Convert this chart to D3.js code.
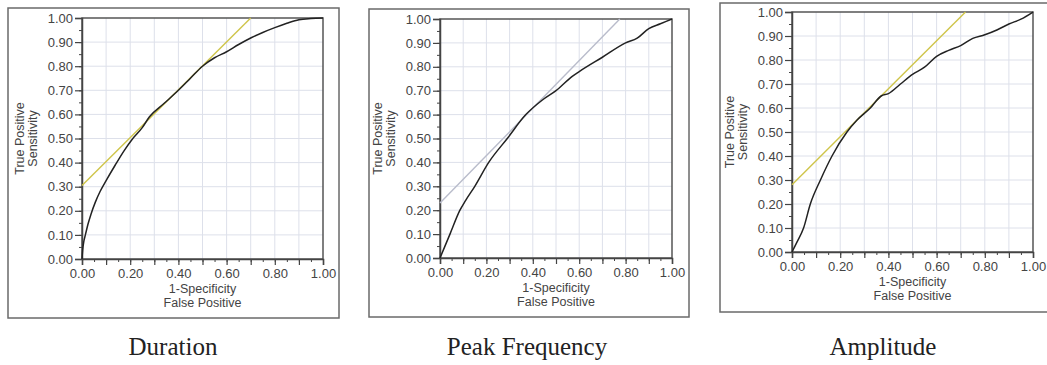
<!DOCTYPE html>
<html>
<head>
<meta charset="utf-8">
<script src="https://cdn.jsdelivr.net/npm/d3@7"></script>
<style>
	body { margin: 0; background: #fff; }
	svg { display: block; }
	.tick text { font-family: Arial, "Liberation Sans", sans-serif; font-size: 13px; fill: #444; }
	.lbl { font-family: Arial, "Liberation Sans", sans-serif; font-size: 12.5px; fill: #444; }
	.title { font-family: "Liberation Serif", "Times New Roman", serif; font-size: 25px; fill: #222; }
</style>
</head>
<body>
<div id="chart"></div>
<script>

//data
const titles = ["Duration", "Peak Frequency", "Amplitude"];

const durationFpr = [0, 0.003, 0.008, 0.014, 0.025, 0.037, 0.055, 0.075, 0.1, 0.138, 0.175, 0.207, 0.25, 0.28, 0.34, 0.40, 0.45, 0.50, 0.55, 0.60, 0.65, 0.70, 0.75, 0.80, 0.85, 0.90, 0.95, 1.0];
const durationTpr = [0, 0.04, 0.075, 0.10, 0.145, 0.185, 0.235, 0.28, 0.325, 0.39, 0.45, 0.495, 0.545, 0.59, 0.645, 0.70, 0.75, 0.80, 0.835, 0.86, 0.89, 0.917, 0.94, 0.96, 0.978, 0.993, 0.998, 1.0];

const peakFpr = [0, 0.043, 0.086, 0.11, 0.15, 0.21, 0.29, 0.37, 0.44, 0.50, 0.57, 0.60, 0.70, 0.80, 0.85, 0.90, 0.95, 1.0];
const peakTpr = [0, 0.10, 0.20, 0.24, 0.30, 0.40, 0.50, 0.60, 0.66, 0.70, 0.76, 0.78, 0.84, 0.90, 0.92, 0.96, 0.98, 1.0];

const ampFpr = [0, 0.02, 0.048, 0.076, 0.118, 0.166, 0.228, 0.27, 0.325, 0.37, 0.40, 0.45, 0.50, 0.55, 0.60, 0.65, 0.70, 0.75, 0.80, 0.85, 0.90, 0.95, 1.0];
const ampTpr = [0, 0.04, 0.10, 0.20, 0.30, 0.40, 0.50, 0.55, 0.60, 0.65, 0.66, 0.70, 0.74, 0.77, 0.815, 0.84, 0.86, 0.89, 0.905, 0.925, 0.95, 0.97, 1.0];

//tangent lines [x1, y1, x2, y2]
const tangents = [
	[0, 0.305, 0.70, 1.0],
	[0, 0.23, 0.775, 1.0],
	[0, 0.28, 0.72, 1.0]
];

const xTickLabels = [0, 0.2, 0.4, 0.6, 0.8, 1.0];
const yTickLabels = [0, 0.1, 0.2, 0.3, 0.4, 0.5, 0.6, 0.7, 0.8, 0.9, 1.0];
const xLabel = ["1-Specificity", "False Positive"];
const yLabel = ["True Positive", "Sensitivity"];

const width = 1047, height = 365;

let svg = d3.select("#chart")
	.append("svg")
	.attr("width", width)
	.attr("height", height);

//panel layout: outer frame and plot area
const panels = [
	{frame: [8, 8, 339, 318], plot: [82, 18, 323, 259], fpr: durationFpr, tpr: durationTpr, tanColor: "#cfc54a", titleX: 173},
	{frame: [369, 9, 689, 317], plot: [440, 19, 672, 258], fpr: peakFpr, tpr: peakTpr, tanColor: "#b9bccb", titleX: 527},
	{frame: [720, 3, 1060, 312], plot: [792, 12, 1033, 252], fpr: ampFpr, tpr: ampTpr, tanColor: "#cfc54a", titleX: 883}
];

const fmt = d3.format(".2f");

panels.forEach(function(p, i){

	let [x0, y0, x1, y1] = p.plot;

	//outer frame
	svg.append("rect")
		.attr("x", p.frame[0])
		.attr("y", p.frame[1])
		.attr("width", p.frame[2] - p.frame[0])
		.attr("height", p.frame[3] - p.frame[1])
		.attr("fill", "none")
		.attr("stroke", "#6a6a6a")
		.attr("stroke-width", 1.5);

	let x = d3.scaleLinear().domain([0, 1]).range([x0, x1]);
	let y = d3.scaleLinear().domain([0, 1]).range([y1, y0]);

	let g = svg.append("g");

	//grid
	let gridVals = d3.range(1, 10).map(d => d / 10);
	g.selectAll(".gx").data(gridVals).enter().append("line")
		.attr("x1", d => x(d)).attr("x2", d => x(d))
		.attr("y1", y0).attr("y2", y1)
		.attr("stroke", "#dde0ea").attr("stroke-width", 1);
	g.selectAll(".gy").data(gridVals).enter().append("line")
		.attr("y1", d => y(d)).attr("y2", d => y(d))
		.attr("x1", x0).attr("x2", x1)
		.attr("stroke", "#dde0ea").attr("stroke-width", 1);

	//plot box
	g.append("rect")
		.attr("x", x0).attr("y", y0)
		.attr("width", x1 - x0).attr("height", y1 - y0)
		.attr("fill", "none")
		.attr("stroke", "#555")
		.attr("stroke-width", 1.5);

	//minor ticks
	let minor = d3.range(0, 21).map(d => d / 20);
	g.append("g")
		.attr("transform", "translate(0," + y1 + ")")
		.call(d3.axisBottom(x).tickValues(minor).tickSize(3).tickFormat(""))
		.call(a => a.select(".domain").remove())
		.selectAll("line").attr("stroke", "#444");
	g.append("g")
		.attr("transform", "translate(" + x0 + ",0)")
		.call(d3.axisLeft(y).tickValues(minor).tickSize(3).tickFormat(""))
		.call(a => a.select(".domain").remove())
		.selectAll("line").attr("stroke", "#444");

	//major ticks
	g.append("g")
		.attr("transform", "translate(0," + y1 + ")")
		.call(d3.axisBottom(x).tickValues(d3.range(0, 11).map(d => d / 10)).tickSize(6).tickPadding(4)
			.tickFormat(d => xTickLabels.some(v => Math.abs(v - d) < 1e-9) ? fmt(d) : ""))
		.call(a => a.select(".domain").attr("stroke", "#444").attr("stroke-width", 1.5))
		.selectAll("line").attr("stroke", "#444").attr("stroke-width", 1.2);
	g.append("g")
		.attr("transform", "translate(" + x0 + ",0)")
		.call(d3.axisLeft(y).tickValues(yTickLabels).tickSize(7).tickPadding(2).tickFormat(fmt))
		.call(a => a.select(".domain").attr("stroke", "#444").attr("stroke-width", 1.5))
		.selectAll("line").attr("stroke", "#444").attr("stroke-width", 1.2);

	//axis labels
	xLabel.forEach(function(t, k){
		g.append("text")
			.attr("class", "lbl")
			.attr("x", (x0 + x1) / 2)
			.attr("y", y1 + 34 + k * 14)
			.attr("text-anchor", "middle")
			.text(t);
	});
	yLabel.forEach(function(t, k){
		g.append("text")
			.attr("class", "lbl")
			.attr("transform", "translate(" + (x0 - 58 + k * 13) + "," + ((y0 + y1) / 2) + ") rotate(-90)")
			.attr("text-anchor", "middle")
			.text(t);
	});

	//tangent line
	let t = tangents[i];
	g.append("line")
		.attr("x1", x(t[0])).attr("y1", y(t[1]))
		.attr("x2", x(t[2])).attr("y2", y(t[3]))
		.attr("stroke", p.tanColor)
		.attr("stroke-width", 1.4);

	//ROC curve
	let pts = p.fpr.map((d, k) => [d, p.tpr[k]]);
	g.append("path")
		.datum(pts)
		.attr("d", d3.line().curve(d3.curveMonotoneX).x(d => x(d[0])).y(d => y(d[1])))
		.attr("fill", "none")
		.attr("stroke", "#222")
		.attr("stroke-width", 1.5)
		.attr("stroke-linejoin", "round");

	//title
	svg.append("text")
		.attr("class", "title")
		.attr("x", p.titleX)
		.attr("y", 355)
		.attr("text-anchor", "middle")
		.text(titles[i]);
});

</script>
</body>
</html>
